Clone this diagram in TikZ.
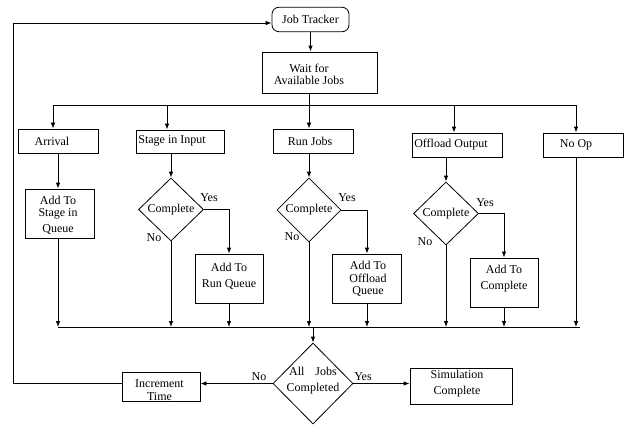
\documentclass[tikz,border=0pt]{standalone}
\usepackage{fontspec}
\setmainfont{Liberation Serif}
\usetikzlibrary{shapes.geometric,arrows.meta}
\begin{document}
\begin{tikzpicture}[x=1pt,y=-1pt,
  line width=0.8pt,
  bx/.style={draw, rectangle, inner sep=0pt},
  dia/.style={draw, diamond, inner sep=0pt},
  txt/.style={inner sep=0pt, align=center, font=\fontsize{12}{12}\selectfont},
  arr/.style={-{Latex[length=6pt,width=4.5pt]}}
]
\useasboundingbox (0,0) rectangle (624,426);

% top
\node[bx, rounded corners=7pt, minimum width=77pt, minimum height=24.5pt, txt] (jt) at (310.5,19.5) {Job Tracker};
\node[bx, minimum width=115pt, minimum height=41pt] (wait) at (319.5,72.5) {};
\node[txt] (waitt) at (309,74) {Wait for\\Available Jobs};
\draw[arr] (jt.south) -- (jt.south |- wait.north);

% row 1 boxes
\node[bx, minimum width=80pt, minimum height=24pt] (arr) at (58,141) {};
\node[txt] (arrt) at (52,141) {Arrival};
\node[bx, minimum width=88pt, minimum height=23pt] (sii) at (180,141.5) {};
\node[txt] (siit) at (172,141) {Stage in Input};
\node[bx, minimum width=80pt, minimum height=24pt] (rj) at (313,141) {};
\node[txt] (rjt) at (310,141) {Run Jobs};
\node[bx, minimum width=90pt, minimum height=24pt] (oo) at (457,145) {};
\node[txt] (oot) at (451,145) {Offload Output};
\node[bx, minimum width=80pt, minimum height=24pt] (nop) at (583,145) {};
\node[txt] (nopt) at (576,145) {No Op};

% top distribution line
\coordinate (b1) at (53,105);
\coordinate (b2) at (167,105);
\coordinate (b4) at (454,105);
\coordinate (b5) at (576,105);
\draw (b1) -- (b5);
\draw[arr] (b1) -- (b1 |- arr.north);
\draw[arr] (b2) -- (b2 |- sii.north);
\draw[arr] (b4) -- (b4 |- oo.north);
\draw[arr] (b5) -- (b5 |- nop.north);
\draw[arr] (waitt |- wait.south) -- (waitt |- rj.north);

% bottom collection line
\coordinate (bl) at (58,327);
\coordinate (br) at (580,327);
\draw (bl) -- (br);

% column 1
\node[bx, minimum width=69pt, minimum height=49pt] (add1) at (59.5,213.5) {};
\node[txt] (add1t) at (58,215) {Add To\\Stage in\\[4pt]Queue};
\draw[arr] (add1t |- arr.south) -- (add1t |- add1.north);
\draw[arr] (add1t |- add1.south) -- (add1t |- bl);

% column 2
\node[dia, minimum width=65pt, minimum height=63pt] (d1) at (171,209.5) {};
\node[txt] (d1t) at (171,210) {Complete};
\node[bx, minimum width=68pt, minimum height=49pt] (add2) at (229,278.5) {};
\node[txt] (add2t) at (229,276) {Add To\\[4pt]Run Queue};
\node[txt] (y1) at (209,198) {Yes};
\node[txt] (n1) at (154,238) {No};
\draw[arr] (d1 |- sii.south) -- (d1.north);
\draw[arr] (d1.east) -| (add2.north);
\draw[arr] (d1.south) -- (d1 |- bl);
\draw[arr] (add2.south) -- (add2 |- bl);

% column 3
\node[dia, minimum width=64pt, minimum height=64pt] (d2) at (309,210) {};
\node[txt] (d2t) at (309,210) {Complete};
\node[bx, minimum width=69pt, minimum height=49pt] (add3) at (367,278.5) {};
\node[txt] (add3t) at (368,279) {Add To\\[0.5pt]Offload\\[0.5pt]Queue};
\node[txt] (y2) at (347,198) {Yes};
\node[txt] (n2) at (292,237) {No};
\draw[arr] (d2 |- rj.south) -- (d2.north);
\draw[arr] (d2.east) -| (add3.north);
\draw[arr] (d2.south) -- (d2 |- bl);
\draw[arr] (add3.south) -- (add3 |- bl);

% column 4
\node[dia, minimum width=65pt, minimum height=63pt] (d3) at (446,213.5) {};
\node[txt] (d3t) at (446,214) {Complete};
\node[bx, minimum width=68pt, minimum height=49pt] (add4) at (504,282.5) {};
\node[txt] (add4t) at (504,279) {Add To\\[4pt]Complete};
\node[txt] (y3) at (485,203) {Yes};
\node[txt] (n3) at (425,242) {No};
\draw[arr] (d3 |- oo.south) -- (d3.north);
\draw[arr] (d3.east) -| (add4.north);
\draw[arr] (d3.south) -- (d3 |- bl);
\draw[arr] (add4.south) -- (add4 |- bl);

% column 5
\draw[arr] (nopt |- nop.south) -- (nopt |- bl);

% final decision
\node[dia, minimum width=80pt, minimum height=81pt] (fd) at (313,383.5) {};
\node[txt] (fdt) at (313,381) {All\hspace{11pt}Jobs\\[4pt]Completed};
\draw[arr] (fd |- bl) -- (fd.north);
\node[bx, minimum width=78pt, minimum height=29pt] (inc) at (161,386.5) {};
\node[txt] (inct) at (159.5,390) {Increment\\[1pt]Time};
\node[bx, minimum width=102pt, minimum height=36pt] (sim) at (461,386) {};
\node[txt] (simt) at (457,384) {Simulation\\[4pt]Complete};
\node[txt] (n4) at (259,377) {No};
\node[txt] (y4) at (363,377) {Yes};
\draw[arr] (fd.west) -- (fd.west -| inc.east);
\draw[arr] (fd.east) -- (fd.east -| sim.west);

% feedback loop
\coordinate (fb) at (13,23);
\draw[arr] (fd.west -| inc.west) -- (fd.west -| fb) -- (fb) -- (fb -| jt.west);
\end{tikzpicture}
\end{document}
